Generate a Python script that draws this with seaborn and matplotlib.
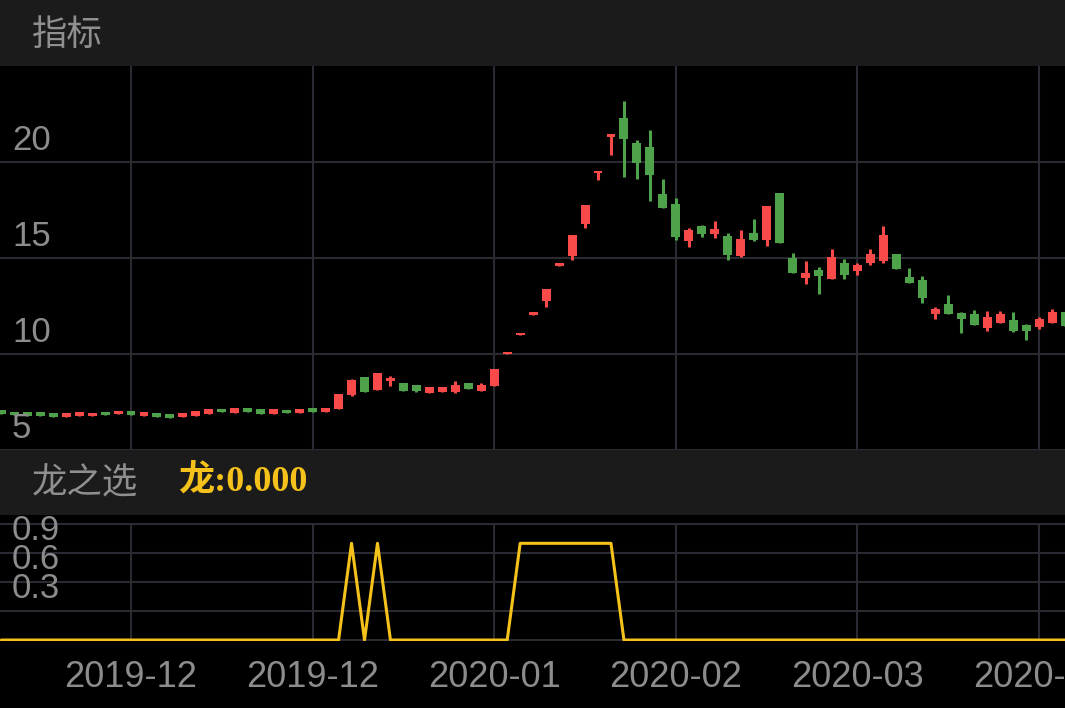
import numpy as np
import matplotlib
matplotlib.use('Agg')
import matplotlib.pyplot as plt
import matplotlib.transforms as mtransforms
from matplotlib.patches import Rectangle
import seaborn as sns

# --- data K线 ---
opens = [7.07, 7.00, 6.96, 7.00, 6.94, 6.74, 6.77, 6.79, 7.00, 6.86,
         7.03, 6.79, 6.91, 6.87, 6.74, 6.79, 6.88, 7.14, 6.94, 7.19,
         7.14, 6.88, 7.08, 6.93, 7.17, 6.96, 7.12, 7.87, 8.78, 8.14,
         8.59, 8.49, 8.39, 7.99, 8.04, 8.04, 8.49, 8.09, 8.33, 9.98,
         11.00, 12.03, 12.78, 14.57, 15.12, 16.77, 19.41, 21.32, 22.29, 20.99,
         20.78, 18.32, 17.81, 15.90, 16.67, 16.25, 16.16, 15.10, 16.28, 15.94,
         18.39, 15.00, 13.98, 14.39, 13.89, 14.74, 14.32, 14.75, 14.86, 15.21,
         14.03, 13.84, 12.07, 12.59, 12.12, 12.08, 11.34, 11.63, 11.77, 11.49,
         11.42, 11.60, 12.17]
closes = [6.87, 6.82, 6.79, 6.79, 6.74, 6.91, 6.96, 6.94, 6.82, 7.03,
          6.82, 6.96, 6.74, 6.68, 6.94, 7.03, 7.12, 6.96, 7.17, 6.98,
          6.89, 7.12, 6.91, 7.14, 7.00, 7.19, 7.90, 8.65, 8.04, 9.01,
          8.77, 8.09, 8.09, 8.26, 8.28, 8.39, 8.20, 8.39, 9.22, 10.10,
          11.09, 12.19, 13.39, 14.74, 16.18, 17.76, 19.55, 21.46, 21.20, 19.93,
          19.32, 17.62, 16.08, 16.46, 16.25, 16.51, 15.16, 15.99, 15.94, 17.71,
          15.80, 14.24, 14.22, 14.05, 15.05, 14.11, 14.63, 15.19, 16.20, 14.44,
          13.72, 12.92, 12.34, 12.07, 11.81, 11.51, 11.91, 12.07, 11.22, 11.22,
          11.81, 12.19, 11.46]
highs = [7.07, 7.00, 6.96, 7.00, 6.94, 6.91, 6.96, 6.94, 7.00, 7.03,
         7.03, 6.96, 6.91, 6.87, 6.94, 7.03, 7.12, 7.14, 7.17, 7.19,
         7.14, 7.12, 7.08, 7.14, 7.17, 7.19, 7.90, 8.68, 8.78, 9.01,
         8.85, 8.49, 8.39, 8.26, 8.28, 8.61, 8.49, 8.47, 9.22, 10.10,
         11.09, 12.19, 13.39, 14.74, 16.18, 17.76, 19.55, 21.46, 23.18, 21.15,
         21.67, 19.10, 18.13, 16.55, 16.72, 16.95, 16.30, 16.46, 17.03, 17.71,
         18.39, 15.26, 14.84, 14.51, 15.47, 14.95, 14.72, 15.47, 16.67, 15.21,
         14.46, 14.06, 12.47, 13.07, 12.20, 12.29, 12.24, 12.24, 12.19, 11.55,
         11.91, 12.33, 12.17]
lows = [6.87, 6.82, 6.79, 6.79, 6.74, 6.74, 6.77, 6.79, 6.82, 6.86,
        6.82, 6.79, 6.74, 6.68, 6.74, 6.79, 6.88, 6.96, 6.94, 6.98,
        6.89, 6.88, 6.91, 6.93, 7.00, 6.96, 7.12, 7.80, 8.04, 8.14,
        8.33, 8.09, 8.02, 7.99, 8.04, 7.95, 8.20, 8.09, 8.33, 9.98,
        11.00, 12.03, 12.43, 14.57, 14.90, 16.56, 19.06, 20.35, 19.24, 19.13,
        17.99, 17.60, 15.94, 15.57, 16.11, 16.06, 14.90, 15.03, 15.90, 15.63,
        15.80, 14.24, 13.65, 13.14, 13.89, 13.91, 14.13, 14.64, 14.72, 14.44,
        13.72, 12.64, 11.81, 12.07, 11.11, 11.51, 11.22, 11.63, 11.16, 10.73,
        11.32, 11.60, 11.46]

# sinyal 龙之选 (0 / 1)
sinyal = [0, 0, 0, 0, 0, 0, 0, 0, 0, 0,
          0, 0, 0, 0, 0, 0, 0, 0, 0, 0,
          0, 0, 0, 0, 0, 0, 0, 1, 0, 1,
          0, 0, 0, 0, 0, 0, 0, 0, 0, 0,
          1, 1, 1, 1, 1, 1, 1, 1, 0, 0,
          0, 0, 0, 0, 0, 0, 0, 0, 0, 0,
          0, 0, 0, 0, 0, 0, 0, 0, 0, 0,
          0, 0, 0, 0, 0, 0, 0, 0, 0, 0,
          0, 0, 0]

posisi_tick = [10, 24, 38, 52, 66, 80]
label_tick = ['2019-12', '2019-12', '2020-01', '2020-02', '2020-03', '2020-04']
label_harga = [20, 15, 10, 5]
label_sinyal = [0.9, 0.6, 0.3]

# --- warna ---
MERAH = '#f94a4a'
HIJAU = '#4ea34a'
EMAS = '#f5c21b'
ABU = '#8c8c8c'
GRID = '#2a2a32'
HEADER = '#1b1b1b'

sns.set_theme(style='dark', rc={'axes.facecolor': 'black', 'figure.facecolor': 'black',
                                'grid.color': GRID, 'grid.linewidth': 1.5})
plt.rcParams['font.family'] = ['Liberation Sans', 'Noto Sans CJK SC', 'DejaVu Sans']

W, H = 1065, 708
fig = plt.figure(figsize=(W / 100, H / 100), dpi=100)
fig.patch.set_facecolor('black')

# bar header (tanpa garis tepi)
fig.patches.append(Rectangle((0, 1 - 66 / H), 1, 66 / H, transform=fig.transFigure,
                             facecolor=HEADER, edgecolor='none', linewidth=0, zorder=0))
fig.patches.append(Rectangle((0, 1 - 515 / H), 1, 65 / H, transform=fig.transFigure,
                             facecolor=HEADER, edgecolor='none', linewidth=0, zorder=0))
fig.text(32 / W, 1 - 35 / H, '指标', color='#8f8f8f', fontsize=25.5, va='center', ha='left',
         family=['Noto Sans CJK SC'])
fig.text(32 / W, 1 - 483 / H, '龙之选', color='#8f8f8f', fontsize=25.5, va='center', ha='left',
         family=['Noto Sans CJK SC'])
fig.text(178 / W, 1 - 482 / H, '龙:0.000', color=EMAS, fontsize=26, va='center', ha='left',
         fontweight='bold', family=['Liberation Serif', 'Noto Sans CJK SC'])

# --- panel harga ---
ax1 = fig.add_axes([0, 1 - 450 / H, 1, 384 / H])
ax1.set_facecolor('black')
idx = np.arange(len(opens))
o = np.array(opens)
c = np.array(closes)
warna = [MERAH if cc >= oo else HIJAU for oo, cc in zip(o, c)]
tinggi = np.maximum(np.abs(c - o), 0.04)
ax1.vlines(idx, lows, highs, colors=warna, linewidth=2.2, zorder=2)
ax1.bar(idx, tinggi, bottom=np.minimum(o, c), width=0.69, color=warna, linewidth=0, zorder=3)
ax1.set_xlim(-0.1, 82.0)
ax1.set_ylim(5, 25)
ax1.set_xticks(posisi_tick)
ax1.set_yticks(label_harga)
ax1.set_xticklabels([])
ax1.set_yticklabels([])
ax1.tick_params(length=0)
ax1.grid(True, color=GRID, linewidth=1.5)
for s in ax1.spines.values():
    s.set_visible(False)
trans1 = mtransforms.offset_copy(ax1.get_yaxis_transform(), fig=fig, y=12, units='dots')
for v in label_harga:
    ax1.text(12 / W, v, str(v), transform=trans1, color=ABU, fontsize=25,
             va='baseline', ha='left', zorder=5)

# --- panel sinyal ---
ax2 = fig.add_axes([0, 1 - 641 / H, 1, 118 / H])
ax2.set_facecolor('black')
sns.lineplot(x=idx, y=sinyal, ax=ax2, color=EMAS, linewidth=2.2, zorder=3)
ax2.set_xlim(-0.1, 82.0)
ax2.set_ylim(-0.01, 1.21)
ax2.set_yticks([0, 0.3, 0.6, 0.9, 1.2])
ax2.set_yticklabels([])
ax2.set_xticks(posisi_tick)
ax2.set_xticklabels(label_tick, color=ABU, fontsize=26)
ax2.tick_params(axis='x', length=0, pad=14)
ax2.tick_params(axis='y', length=0)
ax2.set_xlabel('')
ax2.set_ylabel('')
ax2.grid(True, color=GRID, linewidth=1.5)
for s in ax2.spines.values():
    s.set_visible(False)
trans2 = mtransforms.offset_copy(ax2.get_yaxis_transform(), fig=fig, y=13, units='dots')
for v in label_sinyal:
    ax2.text(12 / W, v, str(v), transform=trans2, color=ABU, fontsize=25,
             va='baseline', ha='left', zorder=5)

fig.savefig('out.png', dpi=100, facecolor='black')
